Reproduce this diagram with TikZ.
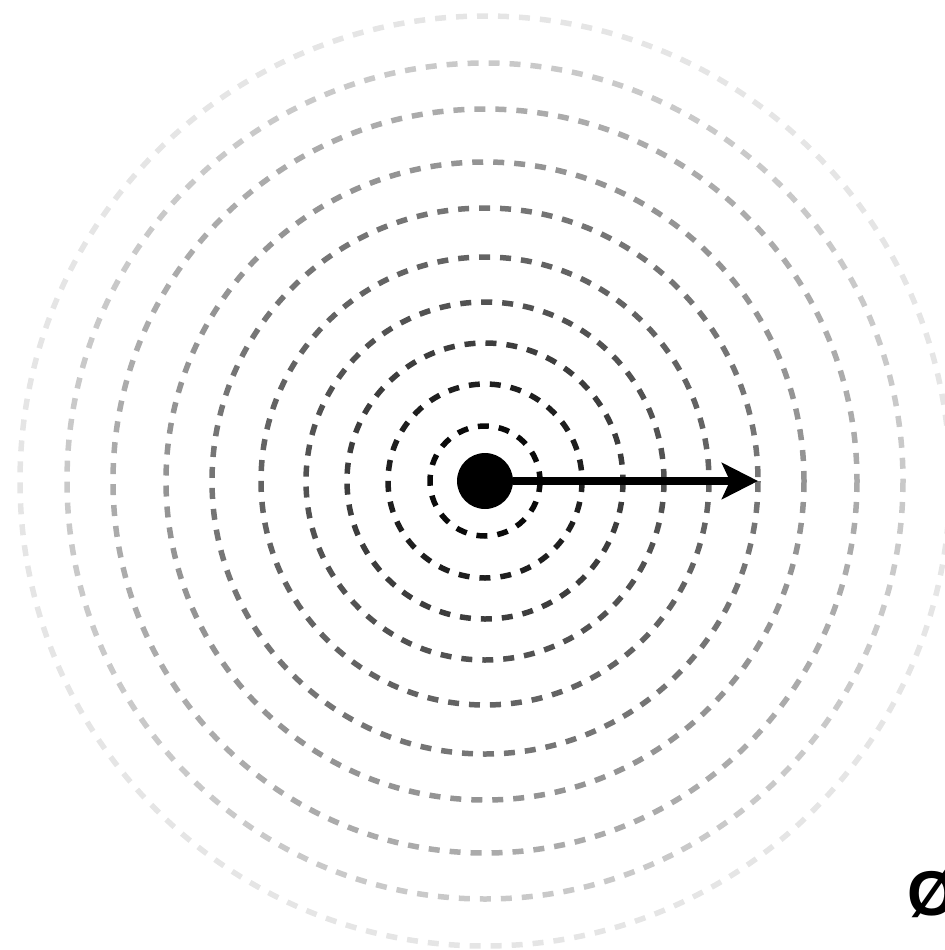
\documentclass[tikz,border=0pt]{standalone}
\usepackage{fontspec}
\setsansfont{Liberation Sans}
\usetikzlibrary{positioning, arrows.meta}

\begin{document}
\begin{tikzpicture}[x=0.02cm, y=-0.02cm,
    ring/.style={line width=0.11cm, dash pattern=on 0.22cm off 0.2cm},
    ray/.style={line width=0.15cm, -{Stealth[length=0.72cm, width=0.72cm, inset=0.16cm]}}]
            \useasboundingbox (0,0) rectangle (945,950);

            \coordinate (C) at (485,481);

            % rings, darker towards the middle
            \foreach \r/\g in {465/10, 418/21, 372/33, 319/42, 273/54, 224/61, 179/68, 138/76, 97/88, 55/96}
                \draw[ring, black!\g] (C) circle (\r);

            \node[circle, fill=black, minimum size=1.12cm, inner sep=0pt] (src) at (C) {};
            \coordinate (tip) at (758,481);

            \draw[ray] (src.east) -- (tip);

            \node[anchor=base west, inner sep=0pt, font=\sffamily\bfseries\fontsize{36}{40}\selectfont] (sym) at (907,915) {Ø};
        \end{tikzpicture}
\end{document}
